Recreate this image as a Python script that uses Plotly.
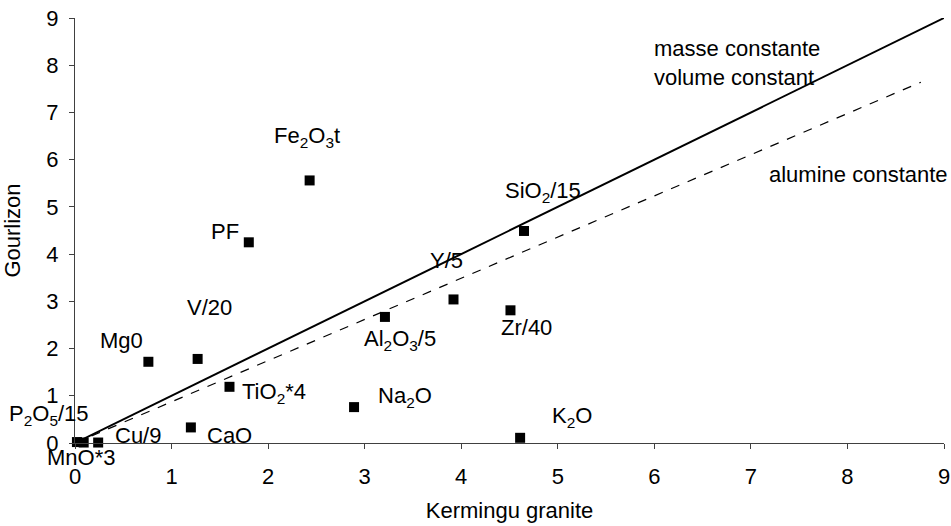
import plotly.graph_objects as go

# --- DATA ---
names = ["P<sub>2</sub>O<sub>5</sub>/15", "MnO*3", "Cu/9", "CaO", "TiO<sub>2</sub>*4",
         "Mg0", "V/20", "PF", "Fe<sub>2</sub>O<sub>3</sub>t", "Na<sub>2</sub>O",
         "Al<sub>2</sub>O<sub>3</sub>/5", "Y/5", "Zr/40", "K<sub>2</sub>O", "SiO<sub>2</sub>/15"]
granite = [0.02, 0.09, 0.24, 1.20, 1.60, 0.76, 1.27, 1.80, 2.43, 2.89, 3.21, 3.92, 4.51, 4.61, 4.65]
gourlizon = [0.02, 0.01, 0.01, 0.33, 1.19, 1.72, 1.78, 4.25, 5.56, 0.76, 2.67, 3.04, 2.81, 0.11, 4.49]

# label anchors (left edge / middle), in axis units, plus pixel nudges for the
# labels that sit outside the plotting area
label_x = [0.0, 0.0, 0.39, 1.35, 1.71, 0.24, 1.14, 1.39, 2.04, 3.12, 2.97, 3.66, 4.39, 4.92, 4.43]
label_y = [0.59, 0.0, 0.16, 0.16, 1.05, 2.18, 2.86, 4.48, 6.49, 0.98, 2.18, 3.87, 2.45, 0.55, 5.32]
label_dx = [-68, -30, 0, 0, 0, 0, 0, 0, 0, 0, 0, 0, 0, 0, 0]
label_dy = [0, -14, 0, 0, 0, 0, 0, 0, 0, 0, 0, 0, 0, 0, 0]

iso_mass_x = [0, 9]
iso_mass_y = [0, 9]
iso_al_x = [0, 8.76]
iso_al_y = [0, 7.64]

ticks = list(range(0, 10))

FONT = "Liberation Sans, Arial, sans-serif"
FS = 22

fig = go.Figure()
fig.add_trace(go.Scatter(x=iso_mass_x, y=iso_mass_y, mode="lines",
                         line=dict(color="black", width=2), showlegend=False, cliponaxis=False))
fig.add_trace(go.Scatter(x=iso_al_x, y=iso_al_y, mode="lines",
                         line=dict(color="black", width=1.2, dash="dash"), showlegend=False,
                         cliponaxis=False))
fig.add_trace(go.Scatter(x=granite, y=gourlizon, mode="markers",
                         marker=dict(symbol="square", size=10, color="black"),
                         showlegend=False, cliponaxis=False))

for name, lx, ly, dx, dy in zip(names, label_x, label_y, label_dx, label_dy):
    fig.add_annotation(x=lx, y=ly, text=name, showarrow=False, xanchor="left",
                       yanchor="middle", xshift=dx, yshift=dy,
                       font=dict(size=FS, color="black", family=FONT))

fig.add_annotation(x=5.98, y=8.04, text="masse constante<br>volume constant", showarrow=False,
                   xanchor="left", yanchor="middle", align="left",
                   font=dict(size=FS, color="black", family=FONT))
fig.add_annotation(x=7.17, y=5.68, text="alumine constante", showarrow=False,
                   xanchor="left", yanchor="middle",
                   font=dict(size=FS, color="black", family=FONT))

fig.update_layout(
    width=951, height=526,
    margin=dict(l=75, r=7, t=18, b=83),
    plot_bgcolor="white", paper_bgcolor="white",
    font=dict(family=FONT, size=FS, color="black"),
)
fig.update_xaxes(range=[0, 9], tickvals=ticks, showgrid=False, zeroline=False,
                 showline=True, linecolor="#404040", linewidth=1, automargin=False,
                 ticks="outside", ticklen=5, tickcolor="#404040", ticklabelstandoff=9,
                 tickfont=dict(size=FS),
                 title=dict(text="Kermingu granite", font=dict(size=FS), standoff=14))
fig.update_yaxes(range=[0, 9], tickvals=ticks, showgrid=False, zeroline=False,
                 showline=True, linecolor="#404040", linewidth=1, automargin=False,
                 ticks="outside", ticklen=5, tickcolor="#404040", ticklabelstandoff=6,
                 tickfont=dict(size=FS),
                 title=dict(text="Gourlizon", font=dict(size=FS), standoff=20))

fig.write_html("out.html", config={"displayModeBar": False},
               post_script="document.body.style.margin='0';")
